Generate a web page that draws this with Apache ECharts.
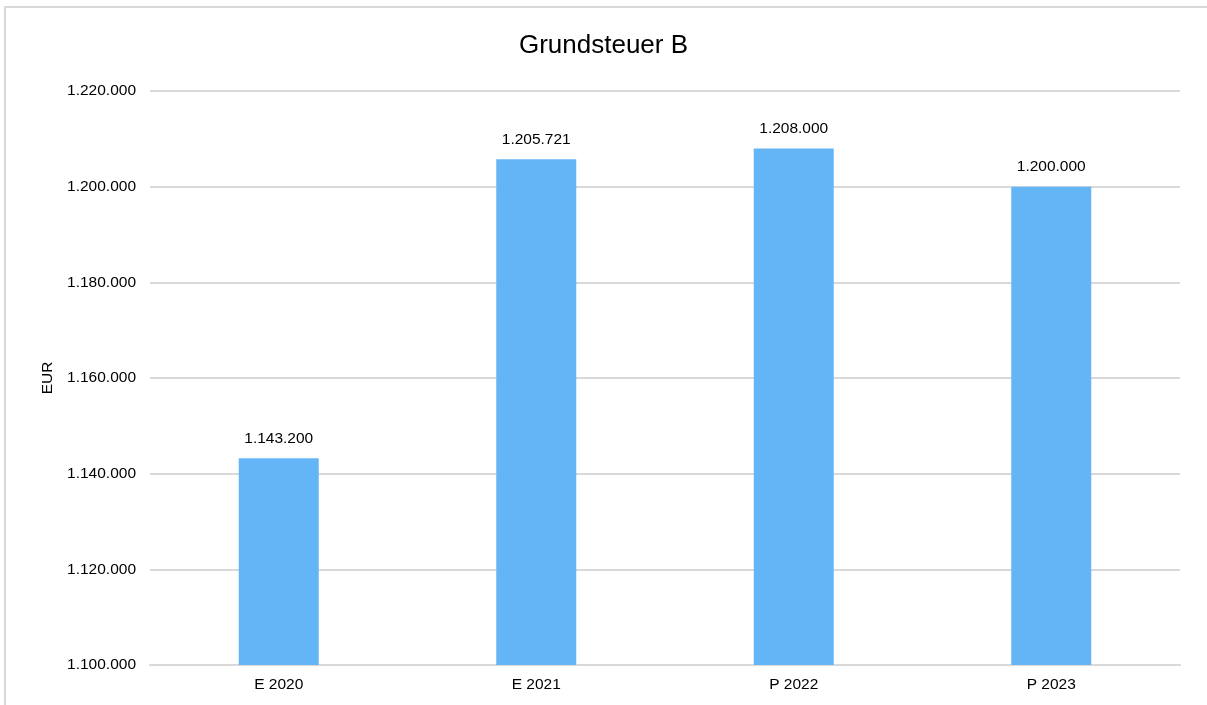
<!DOCTYPE html>
<html>
<head>
<meta charset="utf-8">
<script src="https://cdn.jsdelivr.net/npm/echarts@6/dist/echarts.min.js"></script>
<style>
html,body{margin:0;padding:0;background:#fff;overflow:hidden;}
#frame{position:absolute;left:4px;top:6px;width:1210px;height:710px;border:2px solid #d9d9d9;box-sizing:border-box;}
#chart{position:absolute;left:0;top:0;width:1207px;height:705px;}
</style>
</head>
<body>
<div id="frame"></div>
<div id="chart"></div>
<script>
const categories = ['E 2020', 'E 2021', 'P 2022', 'P 2023'];
const values = [1143200, 1205721, 1208000, 1200000];
const chartTitle = 'Grundsteuer B';
const yAxisName = 'EUR';

function fmt(v) {
  return String(Math.round(v)).replace(/\B(?=(\d{3})+(?!\d))/g, '.');
}

const FONT = 'Liberation Sans, Arial, sans-serif';
const chart = echarts.init(document.getElementById('chart'), null, {renderer: 'canvas'});
chart.setOption({
  backgroundColor: 'transparent',
  textStyle: {fontFamily: FONT},
  title: {
    text: chartTitle,
    left: 'center',
    top: 28,
    textStyle: {fontSize: 26, fontWeight: 'normal', color: '#000', fontFamily: FONT}
  },
  grid: {left: 150, right: 27, top: 91, bottom: 40, containLabel: false},
  xAxis: {
    type: 'category',
    data: categories,
    axisLine: {lineStyle: {color: '#d9d9d9', width: 2}},
    axisTick: {show: false},
    axisLabel: {color: '#000', fontSize: 15.5, margin: 12, fontFamily: FONT}
  },
  yAxis: {
    type: 'value',
    min: 1100000,
    max: 1220000,
    interval: 20000,
    name: yAxisName,
    nameLocation: 'middle',
    nameGap: 89,
    nameRotate: 90,
    nameTextStyle: {color: '#000', fontSize: 15.5, fontFamily: FONT},
    axisLine: {show: false},
    axisTick: {show: false},
    splitLine: {lineStyle: {color: '#d9d9d9', width: 2}},
    axisLabel: {color: '#000', fontSize: 15.5, margin: 14, formatter: fmt, fontFamily: FONT}
  },
  series: [{
    type: 'bar',
    data: values,
    barWidth: 80,
    itemStyle: {color: '#64b5f6'},
    label: {
      show: true,
      position: 'top',
      distance: 12,
      color: '#000',
      fontSize: 15.5,
      fontFamily: FONT,
      formatter: p => fmt(p.value)
    }
  }],
  animation: false
});
</script>
</body>
</html>
